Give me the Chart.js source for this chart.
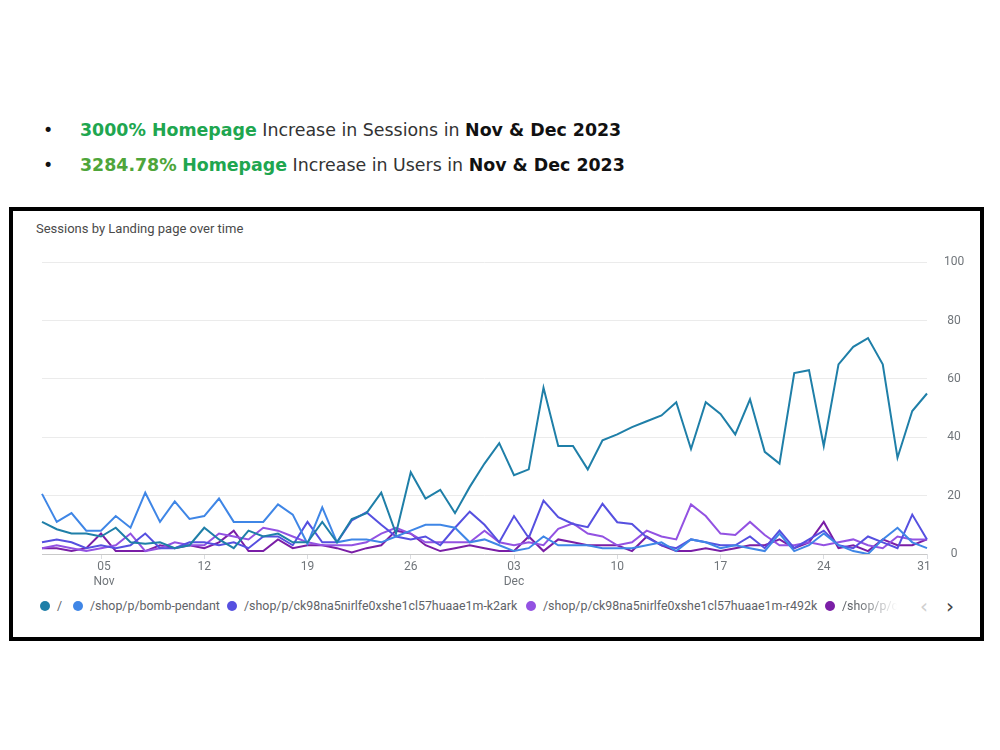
<!DOCTYPE html>
<html>
<head>
<meta charset="utf-8">
<title>Sessions by Landing page over time</title>
<script src="https://cdn.jsdelivr.net/npm/chart.js@4.4.0/dist/chart.umd.min.js"></script>
<style>
  body { margin:0; width:1000px; height:750px; background:#fff; position:relative; overflow:hidden; font-family:"DejaVu Sans", Verdana, sans-serif; }
  .bl { position:absolute; left:80px; font-size:17.4px; line-height:20px; color:#333; white-space:nowrap; }
  .bl .dot { position:absolute; left:-37px; color:#111; }
  .g { color:#20a64f; font-weight:bold; }
  .g2 { color:#4ea53a; font-weight:bold; }
  .k { color:#111; font-weight:bold; }
  .box { position:absolute; left:9px; top:207px; width:975px; height:434px; border:4px solid #000; box-sizing:border-box; }
  .title { position:absolute; left:36px; top:221px; font:13px Roboto, sans-serif; color:#4a4a4a; }
  #wrap { position:absolute; left:30px; top:238px; width:953px; height:352px; }
  .leg { position:absolute; top:598px; height:16px; font:12.4px Roboto, sans-serif; color:#5f6368; white-space:nowrap; line-height:16px; }
  .leg i { display:inline-block; width:10px; height:10px; border-radius:50%; vertical-align:-1px; margin-right:7px; }
  .fade { width:76px; overflow:hidden; -webkit-mask-image:linear-gradient(to right, #000 40%, transparent 95%); mask-image:linear-gradient(to right, #000 40%, transparent 95%); }
  .arr { position:absolute; top:594px; font:20px "DejaVu Sans", sans-serif; }
</style>
</head>
<body>

<div class="bl" style="top:120px"><span class="dot">&#8226;</span><span class="g">3000% Homepage</span> Increase in Sessions in <span class="k">Nov &amp; Dec 2023</span></div>
<div class="bl" style="top:155px"><span class="dot">&#8226;</span><span class="g2">3284.78%</span> <span class="g">Homepage</span> Increase in Users in <span class="k">Nov &amp; Dec 2023</span></div>

<div class="box"></div>
<div class="title">Sessions by Landing page over time</div>
<div id="wrap"><canvas id="myChart" width="953" height="352"></canvas></div>
<div id="legend"></div>
<div class="arr" style="left:920px;color:#d0d0d0">&#8249;</div>
<div class="arr" style="left:946px;color:#444">&#8250;</div>

<script>
  // data block
  const novDays = 30;
  const decDays = 31;
  const tickDays = [4, 11, 18, 25, 32, 39, 46, 53, 60];
  const tickText = [['  05', '  Nov'], '12', '19', '26', ['03', 'Dec'], '10', '17', '24', '31  '];
  const yTicks = [0, 20, 40, 60, 80, 100];

  const seriesNames = [
    '/',
    '/shop/p/bomb-pendant',
    '/shop/p/ck98na5nirlfe0xshe1cl57huaae1m-k2ark',
    '/shop/p/ck98na5nirlfe0xshe1cl57huaae1m-r492k',
    '/shop/p/ck98na5nirlfe0xshe1cl57huaae1m'
  ];

  const homeSessions = [11, 8.5, 7, 7, 6, 9, 4, 3.5, 4, 2, 3, 9, 5, 2, 8, 6, 7, 4, 4, 11,
    4, 12, 14, 21, 7, 28, 19, 22, 14, 23,
    31, 38, 27, 29, 57, 37, 37, 29, 39, 41,
    43.5, 45.5, 47.5, 52, 36, 52, 48, 41, 53, 35,
    31, 62, 63, 37, 65, 71, 74, 65, 33, 49, 55];
  const bombSessions = [20.6, 11, 14, 8, 8, 13, 9, 21, 11, 18, 12, 13, 19, 11, 11, 11, 17, 13.5, 3.5, 16,
    4, 5, 5, 4, 6, 8, 10, 10, 9, 4,
    5, 3, 1, 2, 6, 3, 3, 3, 2, 2,
    2, 3, 4, 1, 5, 4, 2, 3, 2, 1,
    7, 1, 3, 7, 3, 1, 0, 5, 9, 4, 2];
  const k2arkSessions = [4, 5, 4, 2, 3, 2, 3, 7, 2, 2, 4, 4, 3, 4, 2, 6, 6, 3, 11, 4,
    4, 11.5, 14.3, 10, 6, 5, 6, 3, 9, 14.5,
    10, 4, 13, 5.5, 18.3, 12.6, 10.3, 9.2, 17.2, 10.9,
    10.3, 5.7, 3, 2, 5, 4, 3, 3, 6, 2,
    8, 2, 5, 8, 3, 2, 6, 4, 2, 13.5, 5];
  const r492kSessions = [2, 3, 2, 1, 2, 3, 7, 1, 2, 4, 3, 3, 7, 6, 5, 9, 8, 6, 4, 3,
    3, 3, 4, 7, 9, 7, 4, 4, 4, 4,
    8, 4, 3, 4, 3, 8.6, 10.5, 7, 6, 3,
    4, 8, 6, 5, 17, 13, 7, 6.5, 11, 6.5,
    3, 3, 4, 3, 4, 5, 3, 2, 6, 5, 5];
  const lastSessions = [2, 2, 1, 2, 7, 1, 1, 1, 3, 2, 3, 2, 4, 8, 1, 1, 5, 2, 3, 3,
    2, 0.5, 2, 3, 8, 7, 3, 1, 2, 3,
    2, 1, 1, 6, 1, 5, 4, 3, 3, 3,
    1, 6, 3, 1, 1, 2, 1, 2, 3, 3,
    5, 2, 4, 11, 2, 3, 1, 5, 3, 3, 5];

  // styles
  const seriesColors = ['#1f7fa8', '#3f86e6', '#5650e0', '#9352e2', '#7a1ea6'];
  const legendX = [40, 73, 227, 526, 825];

  // day labels
  const dayLabels = [];
  for (let d = 1; d <= novDays; d++) dayLabels.push('Nov ' + d);
  for (let d = 1; d <= decDays; d++) dayLabels.push('Dec ' + d);

  const allSeries = [homeSessions, bombSessions, k2arkSessions, r492kSessions, lastSessions];

  // setup
  const data = {
    labels: dayLabels,
    datasets: allSeries.map(function(vals, i) {
      return {
        label: seriesNames[i],
        data: vals,
        borderColor: seriesColors[i],
        backgroundColor: seriesColors[i],
        borderWidth: 2,
        pointRadius: 0,
        tension: 0,
        fill: false
      };
    })
  };

  // config
  const config = {
    type: 'line',
    data,
    options: {
      responsive: false,
      animation: false,
      layout: { padding: { left: 12, top: 0, right: 0, bottom: 0 } },
      plugins: { legend: { display: false }, tooltip: { enabled: false } },
      scales: {
        x: {
          grid: { drawOnChartArea: false, color: '#dadce0', tickLength: 5 },
          border: { display: false },
          ticks: {
            autoSkip: false,
            maxRotation: 0,
            padding: 1,
            color: '#70757a',
            font: { family: 'Roboto', size: 12 },
            callback: function(v) {
              const k = tickDays.indexOf(v);
              return k < 0 ? '' : tickText[k];
            }
          },
          afterBuildTicks: function(s) {
            s.ticks = s.ticks.filter(t => tickDays.includes(t.value));
          },
          afterFit: function(s) { s.height = 36; }
        },
        y: {
          position: 'right',
          min: 0,
          max: 100,
          afterBuildTicks: function(s) {
            s.ticks = yTicks.map(v => ({ value: v }));
          },
          ticks: {
            padding: 17,
            crossAlign: 'center',
            color: '#70757a',
            font: { family: 'Roboto', size: 12 }
          },
          grid: {
            drawTicks: false,
            color: c => (c.tick && c.tick.value === 0) ? '#c9c9c9' : '#ebebeb'
          },
          border: { display: false },
          afterFit: function(s) { s.width = 56; }
        }
      }
    }
  };

  // render init block
  const myChart = new Chart(document.getElementById('myChart'), config);

  // legend (html)
  const legend = document.getElementById('legend');
  seriesNames.forEach(function(name, i) {
    const el = document.createElement('div');
    el.className = 'leg' + (i === seriesNames.length - 1 ? ' fade' : '');
    el.style.left = legendX[i] + 'px';
    el.innerHTML = '<i style="background:' + seriesColors[i] + '"></i>' + name;
    legend.appendChild(el);
  });
</script>
</body>
</html>
